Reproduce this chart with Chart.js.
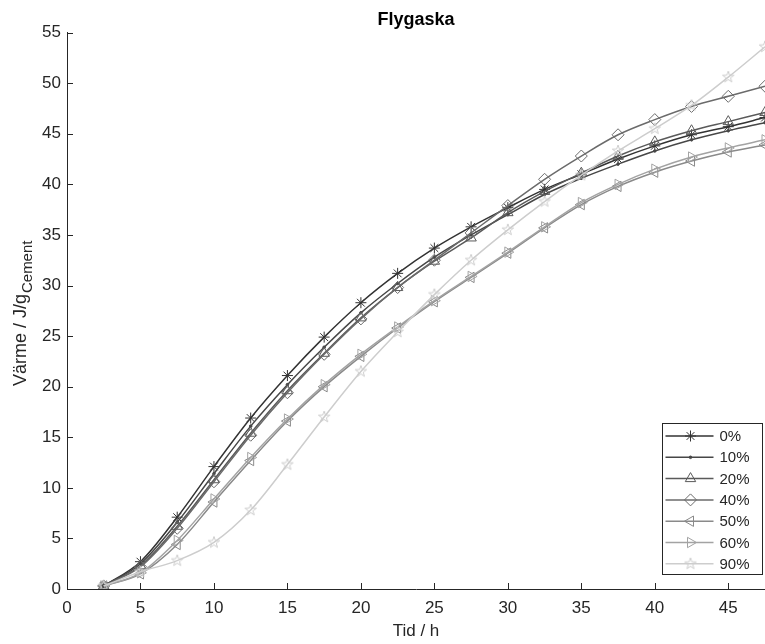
<!DOCTYPE html>
<html>
<head>
<meta charset="utf-8">
<script src="https://cdn.jsdelivr.net/npm/chart.js@4.4.1/dist/chart.umd.min.js"></script>
<style>
html, body { margin: 0; padding: 0; background: #fff; }
#wrap { width: 765px; height: 644px; }
</style>
</head>
<body>
<div id="wrap"><canvas id="chart" width="765" height="644"></canvas></div>
<script>
// Tid / h
const tid = [2.5, 5, 7.5, 10, 12.5, 15, 17.5, 20, 22.5, 25, 27.5, 30, 32.5, 35, 37.5, 40, 42.5, 45, 47.5];

// Värme / J/g cement, per andel flygaska
const fa0  = [0.3, 2.7, 7.1, 12.1, 16.9, 21.1, 24.9, 28.3, 31.2, 33.7, 35.8, 37.7, 39.5, 41.0, 42.5, 43.8, 44.9, 45.7, 46.6];
const fa10 = [0.3, 2.5, 6.6, 11.4, 16.1, 20.2, 23.9, 27.3, 30.2, 32.8, 35.0, 37.0, 39.0, 40.6, 42.0, 43.3, 44.4, 45.3, 46.1];
const fa20 = [0.3, 2.3, 6.2, 10.8, 15.4, 19.6, 23.3, 26.8, 29.8, 32.4, 34.7, 37.2, 39.3, 41.1, 42.8, 44.2, 45.3, 46.2, 47.1];
const fa40 = [0.3, 2.2, 6.0, 10.6, 15.2, 19.4, 23.2, 26.7, 29.8, 32.5, 35.2, 37.9, 40.5, 42.8, 44.9, 46.4, 47.7, 48.7, 49.7];
const fa50 = [0.3, 1.5, 4.4, 8.6, 12.7, 16.6, 20.0, 23.0, 25.8, 28.4, 30.8, 33.2, 35.7, 38.0, 39.8, 41.2, 42.3, 43.2, 43.9];
const fa60 = [0.3, 1.6, 4.8, 8.9, 13.0, 16.8, 20.2, 23.2, 25.9, 28.5, 30.9, 33.3, 35.8, 38.2, 40.0, 41.5, 42.7, 43.6, 44.4];
const fa90 = [0.3, 1.7, 2.8, 4.6, 7.8, 12.3, 17.0, 21.5, 25.4, 29.1, 32.5, 35.5, 38.3, 40.9, 43.3, 45.5, 47.8, 50.6, 53.6];

const serieNamn = ['0%', '10%', '20%', '40%', '50%', '60%', '90%'];
const serier = [fa0, fa10, fa20, fa40, fa50, fa60, fa90];

const xTicks = [0, 5, 10, 15, 20, 25, 30, 35, 40, 45];
const yTicks = [0, 5, 10, 15, 20, 25, 30, 35, 40, 45, 50, 55];

const axisColor = '#262626';
const fargor = ['#333333', '#474747', '#5a5a5a', '#6b6b6b', '#8a8a8a', '#a3a3a3', '#cdcdcd'];

// femuddig stjärna (MATLAB 'p') som punktstil
function pentagram(color, r) {
    const c = document.createElement('canvas');
    const s = Math.ceil(r * 2 + 4);
    c.width = s; c.height = s;
    const g = c.getContext('2d');
    g.strokeStyle = color;
    g.lineWidth = 1;
    g.beginPath();
    for (let i = 0; i < 10; i++) {
        const a = -Math.PI / 2 + i * Math.PI / 5;
        const rr = i % 2 ? r * 0.4 : r;
        const px = s / 2 + rr * Math.cos(a), py = s / 2 + rr * Math.sin(a);
        if (i) g.lineTo(px, py); else g.moveTo(px, py);
    }
    g.closePath();
    g.stroke();
    return c;
}

const markorer = [
    { style: 'star', rot: 0, r: 5.5, fill: false },
    { style: 'circle', rot: 0, r: 1.3, fill: true },
    { style: 'triangle', rot: 0, r: 6, fill: false },
    { style: 'rectRot', rot: 0, r: 6, fill: false },
    { style: 'triangle', rot: -90, r: 6, fill: false },
    { style: 'triangle', rot: 90, r: 6, fill: false },
    { style: pentagram(fargor[6], 6), rot: 0, r: 6, fill: false }
];

const datasets = serier.map((s, i) => ({
    label: serieNamn[i],
    data: s.map((v, j) => ({ x: tid[j], y: v })),
    borderColor: fargor[i],
    borderWidth: 1.5,
    pointStyle: markorer[i].style,
    pointRotation: markorer[i].rot,
    pointRadius: markorer[i].r,
    pointBorderColor: fargor[i],
    pointBorderWidth: 1,
    pointBackgroundColor: markorer[i].fill ? fargor[i] : 'rgba(0,0,0,0)',
    cubicInterpolationMode: 'monotone',
    fill: false,
    clip: 0,
    order: serier.length - i
}));

// tickmarkeringar inåt, y-axelns titel med index, och legend
const matlabStil = {
    id: 'matlabStil',
    beforeDatasetsDraw(chart) {
        const { ctx, chartArea, scales } = chart;
        ctx.save();
        ctx.strokeStyle = axisColor;
        ctx.lineWidth = 1;
        ctx.beginPath();
        xTicks.forEach(v => {
            const px = Math.round(scales.x.getPixelForValue(v)) + 0.5;
            ctx.moveTo(px, chartArea.bottom);
            ctx.lineTo(px, chartArea.bottom - 6);
        });
        yTicks.forEach(v => {
            const py = Math.round(scales.y.getPixelForValue(v)) + 0.5;
            ctx.moveTo(chartArea.left, py);
            ctx.lineTo(chartArea.left + 6, py);
        });
        ctx.stroke();
        ctx.restore();
    },
    afterDraw(chart) {
        const { ctx, chartArea } = chart;
        const fam = "'Liberation Sans', Arial, sans-serif";

        // y-titel: Värme / J/g_Cement
        ctx.save();
        const huvud = 'Värme / J/g', sub = 'Cement';
        ctx.font = '18px ' + fam;
        const wH = ctx.measureText(huvud).width;
        ctx.font = '15px ' + fam;
        const wS = ctx.measureText(sub).width;
        const cy = (chartArea.top + chartArea.bottom) / 2 + 3;
        ctx.translate(26, cy + (wH + wS) / 2);
        ctx.rotate(-Math.PI / 2);
        ctx.fillStyle = axisColor;
        ctx.textBaseline = 'alphabetic';
        ctx.textAlign = 'left';
        ctx.font = '18px ' + fam;
        ctx.fillText(huvud, 0, 0);
        ctx.font = '15px ' + fam;
        ctx.fillText(sub, wH + 1, 6);
        ctx.restore();

        // legend
        ctx.save();
        const bw = 100, bh = 151;
        const bx = Math.round(chartArea.right - 103) + 0.5;
        const by = Math.round(chartArea.bottom - 166) + 0.5;
        ctx.fillStyle = '#fff';
        ctx.fillRect(bx, by, bw, bh);
        ctx.strokeStyle = axisColor;
        ctx.lineWidth = 1;
        ctx.strokeRect(bx, by, bw, bh);
        chart.data.datasets.forEach((ds, i) => {
            const y = by + 12.5 + i * 21.3;
            ctx.strokeStyle = ds.borderColor;
            ctx.lineWidth = ds.borderWidth;
            ctx.beginPath();
            ctx.moveTo(bx + 3, y);
            ctx.lineTo(bx + 51, y);
            ctx.stroke();
            ctx.lineWidth = ds.pointBorderWidth;
            ctx.fillStyle = ds.pointBackgroundColor;
            Chart.helpers.drawPoint(ctx, {
                pointStyle: ds.pointStyle,
                rotation: ds.pointRotation,
                radius: ds.pointRadius,
                borderWidth: ds.pointBorderWidth
            }, bx + 28, y);
            ctx.fillStyle = axisColor;
            ctx.font = '15px ' + fam;
            ctx.textBaseline = 'middle';
            ctx.textAlign = 'left';
            ctx.fillText(ds.label, bx + 57, y + 1);
        });
        ctx.restore();
    }
};

Chart.defaults.font.family = "'Liberation Sans', Arial, sans-serif";
Chart.defaults.color = axisColor;

new Chart(document.getElementById('chart').getContext('2d'), {
    type: 'line',
    data: { datasets: datasets },
    options: {
        responsive: false,
        animation: false,
        layout: { padding: 0, autoPadding: false },
        plugins: {
            legend: { display: false },
            tooltip: { enabled: false },
            title: {
                display: true,
                text: 'Flygaska',
                fullSize: false,
                color: '#000',
                font: { size: 18, weight: 'bold' },
                padding: { top: 9, bottom: 2 }
            }
        },
        scales: {
            x: {
                type: 'linear',
                min: 0,
                max: 47.5,
                afterFit(scale) {
                    scale.height = 55;
                    scale.paddingRight = 0;
                },
                grid: { display: false, drawTicks: false },
                border: { display: true, color: axisColor, width: 1 },
                ticks: {
                    stepSize: 5,
                    includeBounds: false,
                    padding: 9,
                    maxRotation: 0,
                    autoSkip: false,
                    color: axisColor,
                    font: { size: 17 }
                },
                title: {
                    display: true,
                    text: 'Tid / h',
                    color: axisColor,
                    font: { size: 17 },
                    padding: { top: 0, bottom: 2 }
                }
            },
            y: {
                type: 'linear',
                min: 0,
                max: 55,
                afterFit(scale) { scale.width = 67; },
                grid: { display: false, drawTicks: false },
                border: { display: true, color: axisColor, width: 1 },
                ticks: {
                    stepSize: 5,
                    padding: 6,
                    color: axisColor,
                    font: { size: 17 }
                }
            }
        }
    },
    plugins: [matlabStil]
});
</script>
</body>
</html>
